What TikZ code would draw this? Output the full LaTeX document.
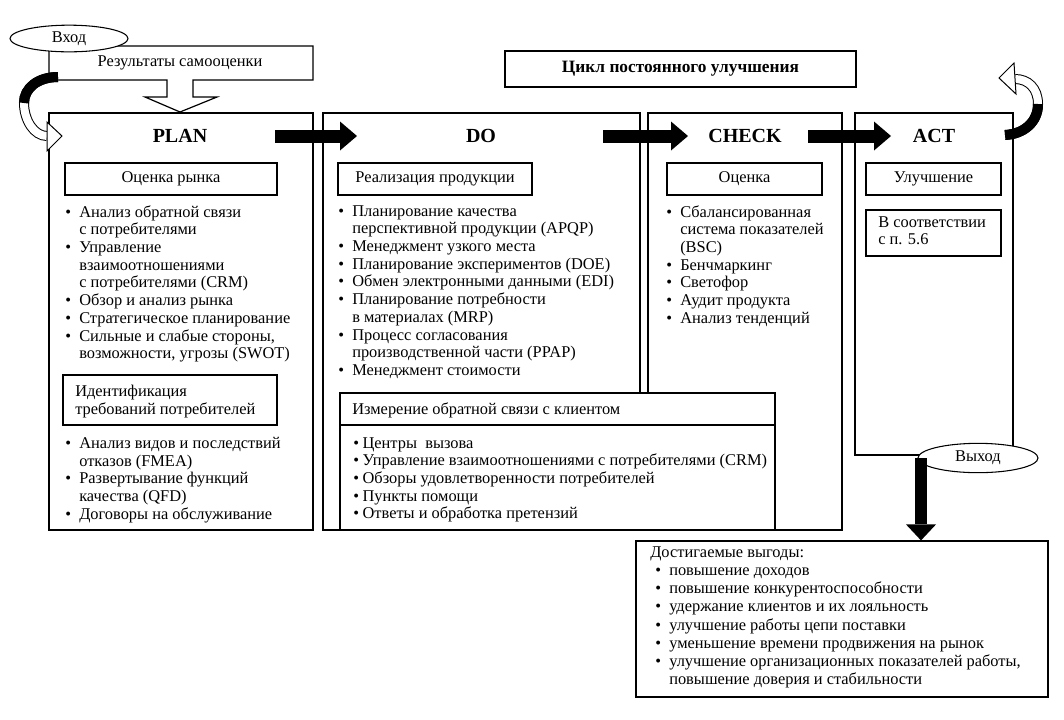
\documentclass[tikz,border=0pt]{standalone}
\usepackage{fontspec}
\setmainfont{Liberation Serif}
\usetikzlibrary{fit,arrows.meta,shapes.geometric}
\newcommand{\lbul}{\makebox[10.5pt][l]{\textbullet}}
\newcommand{\lind}{\hspace*{10.5pt}}
\newcommand{\sbul}{\makebox[7pt][l]{\textbullet}}
\tikzset{
  frame/.style={draw=black, line width=0.9pt, inner sep=0pt, fill=white},
  txt/.style={font=\fontsize{12.3}{13.3}\selectfont, inner sep=0pt},
  listtxt/.style={font=\fontsize{12.3}{13.3}\selectfont, inner sep=0pt, align=left, anchor=north west},
  heading/.style={font=\fontsize{15}{17}\selectfont\bfseries, inner sep=0pt},
  oval/.style={draw=black, line width=0.8pt, fill=white, ellipse, inner sep=0pt, font=\fontsize{12.3}{13.3}\selectfont},
  blockarrow/.style={line width=9.75pt, -{Triangle[length=12.75pt, width=21.75pt, line width=0pt]}},
  downarrow/.style={line width=9pt, -{Triangle[length=12pt, width=22.5pt, line width=0pt]}},
  band/.style={draw=black, line width=0.75pt, double=white, double distance=6pt},
  bandblack/.style={draw=black, line width=7.5pt},
  tiphead/.style={draw=black, line width=0.75pt, fill=white, line join=miter}
}
\begin{document}
\begin{tikzpicture}[x=0.75pt, y=-0.75pt]
\useasboundingbox (0,0) rectangle (1064,719);

% input block with down arrow
\draw[line width=0.9pt, fill=white] (49,46) -- (313,46) -- (313,80) -- (193,80) -- (193,97) -- (217,97)
  -- (180,112) -- (145,97) -- (167,97) -- (167,80) -- (49,80) -- cycle;
\node[txt] (results) at (180,63) {Результаты самооценки};
\node[oval, minimum width=88.5pt, minimum height=20pt] (input) at (69,38.5) {Вход};

% title
\node[frame, minimum width=263.25pt, minimum height=27pt, font=\fontsize{13}{15}\selectfont\bfseries] (cycle) at (680.5,69) {Цикл постоянного улучшения};

% main columns
\node[frame, fit={(49,113) (313,530)}] (plan) {};
\node[frame, fit={(323,113) (640,530)}] (do) {};
\node[frame, fit={(648,113) (842,530)}] (check) {};
\node[frame, fit={(855,113) (1013,455)}] (act) {};

\node[heading] (planh) at (180,136) {PLAN};
\node[heading] (doh) at (481,136) {DO};
\node[heading] (checkh) at (745,136) {CHECK};
\node[heading] (acth) at (934,136) {ACT};

% PLAN content
\node[frame, txt, minimum width=159pt, minimum height=24pt] (market) at (171,179) {Оценка рынка};
\node[listtxt] (planlist1) at (65,205) {\lbul Анализ обратной связи\\
\lind с потребителями\\
\lbul Управление\\
\lind взаимоотношениями\\
\lind с потребителями (CRM)\\
\lbul Обзор и анализ рынка\\
\lbul Стратегическое планирование\\
\lbul Сильные и слабые стороны,\\
\lind возможности, угрозы (SWOT)};
\node[frame, fit={(63,375) (277,425)}] (ident) {};
\node[listtxt] (identtxt) at (75,385) {Идентификация\\требований потребителей};
\node[listtxt] (planlist2) at (65,437) {\lbul Анализ видов и последствий\\
\lind отказов (FMEA)\\
\lbul Развертывание функций\\
\lind качества (QFD)\\
\lbul Договоры на обслуживание};

% DO content
\node[frame, txt, minimum width=145.5pt, minimum height=24pt] (realize) at (435,179) {Реализация продукции};
\node[listtxt] (dolist) at (338,205) {\lbul Планирование качества\\
\lind перспективной продукции (APQP)\\
\lbul Менеджмент узкого места\\
\lbul Планирование экспериментов (DOE)\\
\lbul Обмен электронными данными (EDI)\\
\lbul Планирование потребности\\
\lind в материалах (MRP)\\
\lbul Процесс согласования\\
\lind производственной части (PPAP)\\
\lbul Менеджмент стоимости};

% CHECK content
\node[frame, txt, minimum width=116.25pt, minimum height=24pt] (evaluation) at (744.5,179) {Оценка};
\node[listtxt] (checklist) at (666,205) {\lbul Сбалансированная\\
\lind система показателей\\
\lind (BSC)\\
\lbul Бенчмаркинг\\
\lbul Светофор\\
\lbul Аудит продукта\\
\lbul Анализ тенденций};

% ACT content
\node[frame, txt, minimum width=101.25pt, minimum height=24pt] (improve) at (933.5,179) {Улучшение};
\node[frame, fit={(866,210) (1001,256)}] (ref) {};
\node[listtxt] (reftxt) at (878,216) {В соответствии\\с п. 5.6};

% customer feedback box
\node[frame, fit={(340,393) (775,530)}] (feedback) {};
\draw[line width=0.9pt] (feedback.west |- 0,425) -- (feedback.east |- 0,425);
\node[txt, anchor=west] (feedbackh) at (352,410) {Измерение обратной связи с клиентом};
\node[listtxt] (feedbacklist) at (353,437) {\sbul Центры\ \ вызова\\
\sbul Управление взаимоотношениями с потребителями (CRM)\\
\sbul Обзоры удовлетворенности потребителей\\
\sbul Пункты помощи\\
\sbul Ответы и обработка претензий};

% block arrows between phases
\coordinate (a1s) at (275,136); \coordinate (a1e) at (357,136);
\coordinate (a2s) at (603,136); \coordinate (a2e) at (688,136);
\coordinate (a3s) at (808,136); \coordinate (a3e) at (891,136);
\draw[blockarrow] (a1s) -- (a1e);
\draw[blockarrow] (a2s) -- (a2e);
\draw[blockarrow] (a3s) -- (a3e);

% left curved arrow (input -> PLAN)
\draw[band] (58,77) .. controls (38,77) and (24,88) .. (24,103) .. controls (24,120) and (34,136) .. (47,136);
\draw[bandblack] (58,77) .. controls (38,77) and (24,88) .. (24,103);
\draw[tiphead] (47,122) -- (62,136) -- (47,151) -- cycle;

% right curved arrow (ACT -> back)
\draw[band] (1005,135) .. controls (1024,134) and (1038,122) .. (1038,104) .. controls (1038,88) and (1028,79) .. (1015,79);
\draw[bandblack] (1005,135) .. controls (1024,134) and (1038,122) .. (1038,104);
\draw[tiphead] (1014,63) -- (999,78) -- (1016,94) -- cycle;

% output
\node[oval, minimum width=90pt, minimum height=22pt] (output) at (978,458) {Выход};
\node[frame, fit={(636,541) (1048,697)}] (benefits) {};
\node[listtxt, font=\fontsize{12.3}{13.7}\selectfont] (benefitslist) at (650,546) {Достигаемые выгоды:\\
\hspace*{3.75pt}\lbul повышение доходов\\
\hspace*{3.75pt}\lbul повышение конкурентоспособности\\
\hspace*{3.75pt}\lbul удержание клиентов и их лояльность\\
\hspace*{3.75pt}\lbul улучшение работы цепи поставки\\
\hspace*{3.75pt}\lbul уменьшение времени продвижения на рынок\\
\hspace*{3.75pt}\lbul улучшение организационных показателей работы,\\
\hspace*{3.75pt}\lind повышение доверия и стабильности};
\coordinate (outs) at (921,458);
\draw[downarrow] (outs) -- (benefits.north -| outs);
\end{tikzpicture}
\end{document}
